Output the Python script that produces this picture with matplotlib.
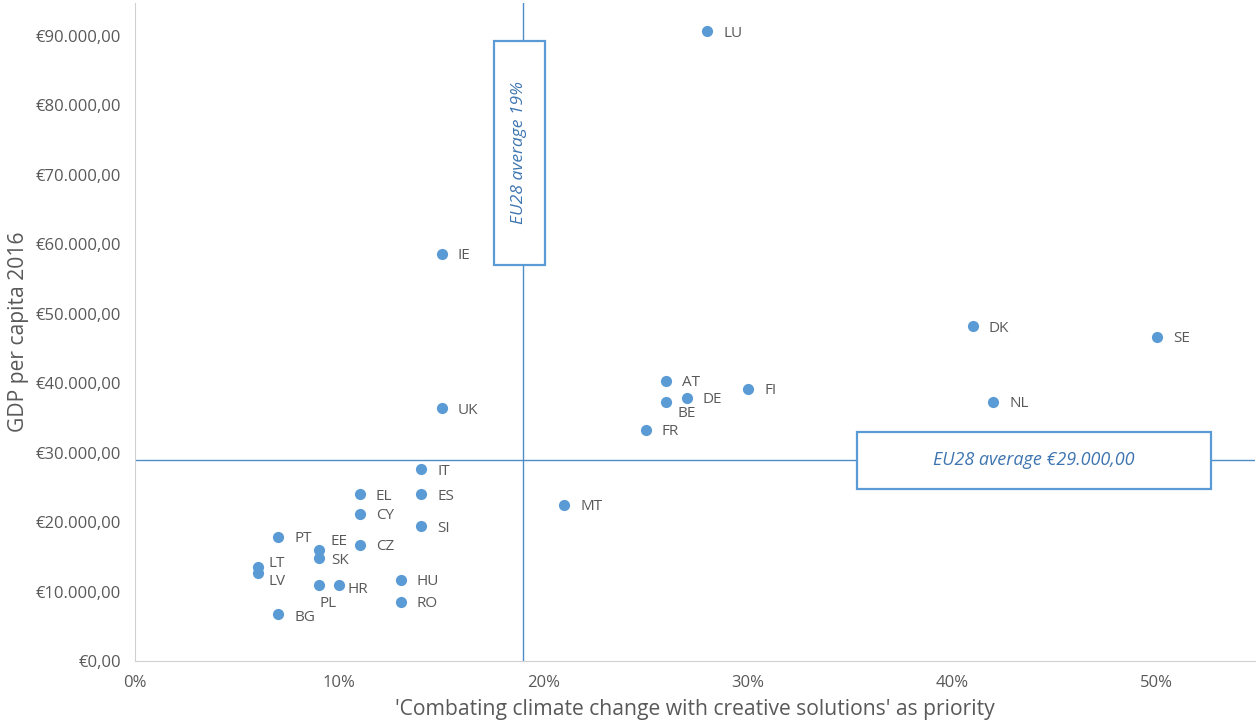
import numpy as np
import matplotlib.pyplot as plt
from matplotlib.patches import Rectangle
from matplotlib.ticker import FuncFormatter, MultipleLocator

plt.rcParams['font.family'] = ['Open Sans', 'DejaVu Sans']

countries = ['LU', 'IE', 'DK', 'SE', 'AT', 'FI', 'DE', 'BE', 'NL', 'UK', 'FR', 'IT',
             'EL', 'ES', 'MT', 'CY', 'SI', 'PT', 'CZ', 'EE', 'SK', 'LT', 'LV', 'HU',
             'PL', 'HR', 'RO', 'BG']
priority = [0.28, 0.15, 0.41, 0.50, 0.26, 0.30, 0.27, 0.26, 0.42, 0.15, 0.25, 0.14,
            0.11, 0.14, 0.21, 0.11, 0.14, 0.07, 0.11, 0.09, 0.09, 0.06, 0.06, 0.13,
            0.09, 0.10, 0.13, 0.07]
gdp = [90600, 58600, 48200, 46700, 40300, 39200, 37900, 37300, 37300, 36400, 33300, 27600,
       24000, 24000, 22500, 21200, 19400, 17900, 16700, 16000, 14800, 13500, 12700, 11700,
       10900, 10900, 8500, 6800]
avg_priority = 0.19
avg_gdp = 29000

# label offsets in pixels (dx, dy), default is right of the point
offsets = {'BE': (11, -12), 'PL': (1, -18), 'HR': (8, -4), 'EE': (12, 8),
           'SK': (12, -2), 'LT': (11, 4), 'LV': (11, -9), 'BG': (16, -4)}

blue = '#5B9BD5'
grey = '#595959'

fig = plt.figure(figsize=(12.59, 7.27), dpi=100)
ax = fig.add_axes([135 / 1259, 66 / 727, 1120 / 1259, 658 / 727])

ax.axvline(avg_priority, color='#4F8DC9', lw=1, zorder=1)
ax.axhline(avg_gdp, color='#4F8DC9', lw=1, zorder=1)

ax.scatter(priority, gdp, s=65, color=blue, zorder=3, linewidths=0)
for c, x, y in zip(countries, priority, gdp):
    dx, dy = offsets.get(c, (16, -2))
    ax.annotate(c, (x, y), xytext=(dx, dy), textcoords='offset pixels',
                ha='left', va='center', fontsize=11, color=grey, zorder=4)

ax.add_patch(Rectangle((0.1756, 57000), 0.025, 32300, facecolor='white',
                       edgecolor=blue, lw=1.6, zorder=2))
ax.text(0.1881, 73150, 'EU28 average 19%', rotation=90, ha='center', va='center',
        style='italic', fontsize=12.5, color='#3E75B0', zorder=5)
ax.add_patch(Rectangle((0.3532, 24800), 0.1732, 8200, facecolor='white',
                       edgecolor=blue, lw=1.6, zorder=2))
ax.text(0.4398, 28900, 'EU28 average €29.000,00', ha='center', va='center',
        style='italic', fontsize=13, color='#3E75B0', zorder=5)

ax.set_xlim(0, 0.548)
ax.set_ylim(0, 94700)
ax.xaxis.set_major_locator(MultipleLocator(0.1))
ax.yaxis.set_major_locator(MultipleLocator(10000))
ax.xaxis.set_major_formatter(FuncFormatter(lambda v, p: '%d%%' % round(v * 100)))
ax.yaxis.set_major_formatter(FuncFormatter(
    lambda v, p: '€' + '{:,.2f}'.format(v).replace(',', 'X').replace('.', ',').replace('X', '.')))
ax.tick_params(length=0, labelsize=12, colors=grey, pad=10)

for s in ['top', 'right']:
    ax.spines[s].set_visible(False)
for s in ['left', 'bottom']:
    ax.spines[s].set_color('#D0D0D0')

ax.set_xlabel("'Combating climate change with creative solutions' as priority",
              fontsize=15.2, color=grey, labelpad=6)
ax.set_ylabel('GDP per capita 2016', fontsize=15.2, color=grey, labelpad=5)

fig.savefig('out.png', dpi=100)
